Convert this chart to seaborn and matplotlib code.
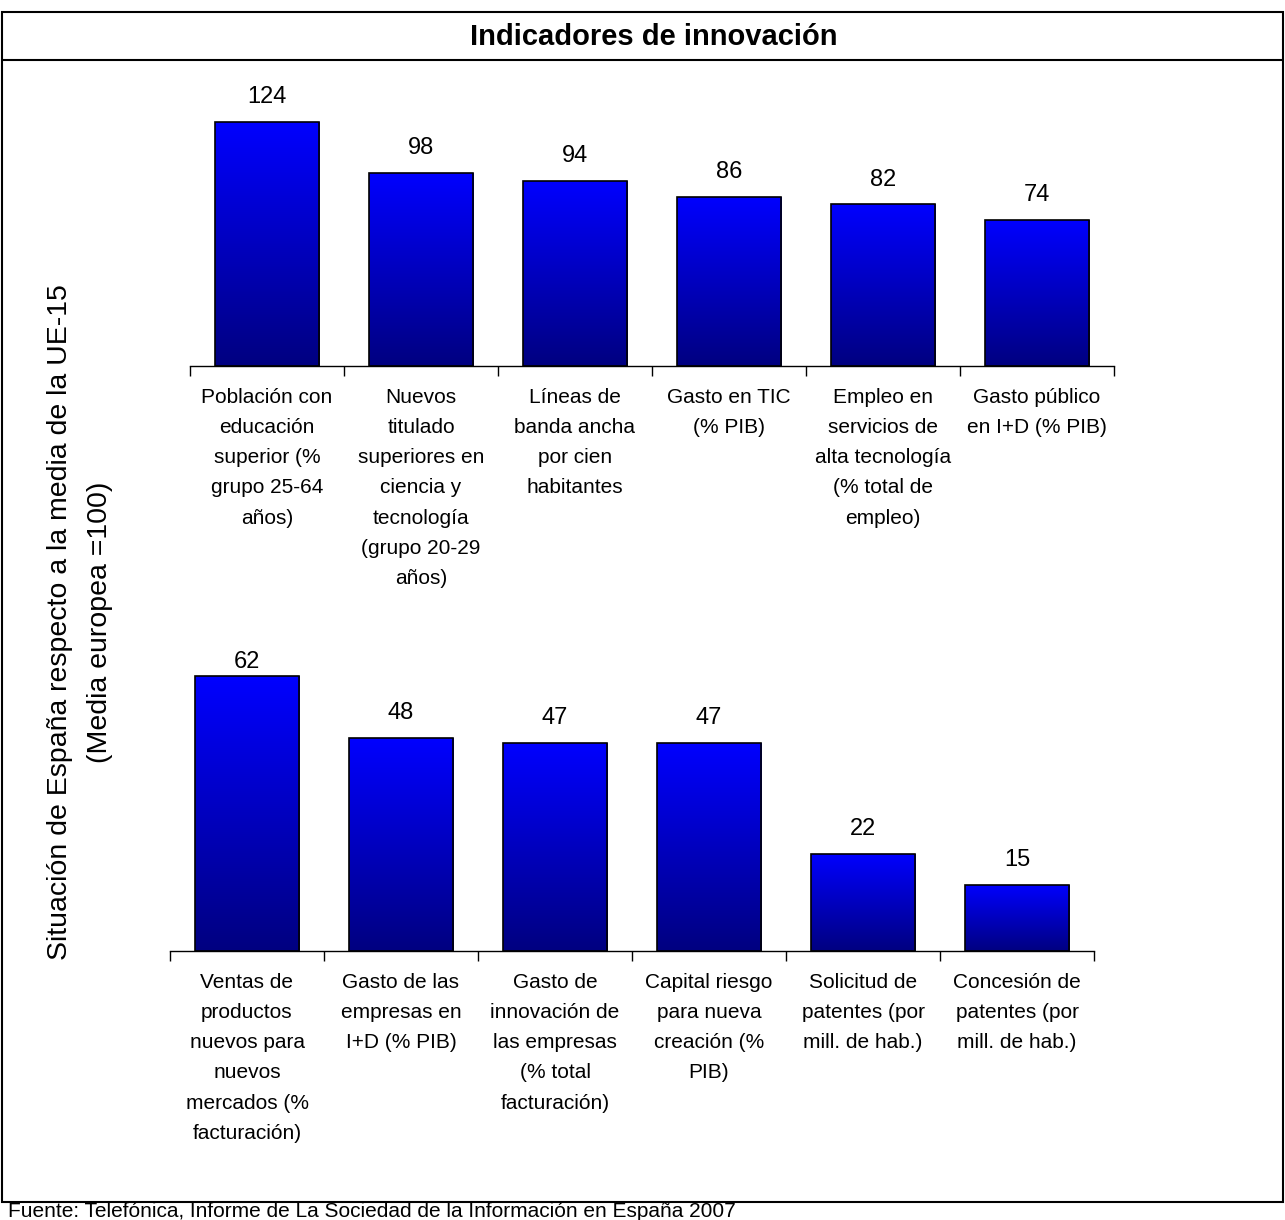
import numpy as np
import pandas as pd
import matplotlib
matplotlib.use("Agg")
import matplotlib.pyplot as plt
import seaborn as sns
from matplotlib.colors import LinearSegmentedColormap
from matplotlib.patches import Rectangle
from matplotlib.lines import Line2D

sns.set_style("white")
plt.rcParams["font.family"] = ["Liberation Sans", "DejaVu Sans"]
plt.rcParams["text.color"] = "black"
plt.rcParams["xtick.color"] = "black"
plt.rcParams["xtick.labelcolor"] = "black"

# ---------------- data ----------------
top_labels = [
    "Población con\neducación\nsuperior (%\ngrupo 25-64\naños)",
    "Nuevos\ntitulado\nsuperiores en\nciencia y\ntecnología\n(grupo 20-29\naños)",
    "Líneas de\nbanda ancha\npor cien\nhabitantes",
    "Gasto en TIC\n(% PIB)",
    "Empleo en\nservicios de\nalta tecnología\n(% total de\nempleo)",
    "Gasto público\nen I+D (% PIB)",
]
top_values = [124, 98, 94, 86, 82, 74]

bottom_labels = [
    "Ventas de\nproductos\nnuevos para\nnuevos\nmercados (%\nfacturación)",
    "Gasto de las\nempresas en\nI+D (% PIB)",
    "Gasto de\ninnovación de\nlas empresas\n(% total\nfacturación)",
    "Capital riesgo\npara nueva\ncreación (%\nPIB)",
    "Solicitud de\npatentes (por\nmill. de hab.)",
    "Concesión de\npatentes (por\nmill. de hab.)",
]
bottom_values = [62, 48, 47, 47, 22, 15]

title = "Indicadores de innovación"
ylabel = "Situación de España respecto a la media de la UE-15\n(Media europea =100)"
source = "Fuente: Telefónica, Informe de La Sociedad de la Información en España 2007"

W, H = 1285, 1220
fig = plt.figure(figsize=(W / 100, H / 100), dpi=100)

grad_cmap = LinearSegmentedColormap.from_list("excel_blue", ["#000080", "#0000ff"])
grad = np.linspace(0, 1, 256).reshape(-1, 1)


def gradient_bars(ax):
    for bar in ax.containers[0]:
        x0, w = bar.get_x(), bar.get_width()
        y0, h = bar.get_y(), bar.get_height()
        im = ax.imshow(grad, cmap=grad_cmap, origin="lower", aspect="auto",
                       extent=[x0, x0 + w, y0, y0 + h], zorder=1.5)
        im.set_clip_path(bar)
        bar.set_facecolor("none")
        bar.set_zorder(2)


def draw_panel(ax, labels, values, ymax, pads):
    df = pd.DataFrame({"cat": labels, "val": values})
    sns.barplot(data=df, x="cat", y="val", color="blue", width=0.68,
                edgecolor="black", linewidth=1.2, ax=ax)
    gradient_bars(ax)
    for i, (v, p) in enumerate(zip(values, pads)):
        ax.annotate(str(v), xy=(i, v), xytext=(0, p), textcoords="offset points",
                    ha="center", va="bottom", fontsize=17, color="black")
    ax.set_xlim(-0.5, len(values) - 0.5)
    ax.set_ylim(0, ymax)
    ax.set_xlabel("")
    ax.set_ylabel("")
    ax.set_yticks([])
    for s in ["left", "top", "right"]:
        ax.spines[s].set_visible(False)
    ax.spines["bottom"].set_color("black")
    ax.spines["bottom"].set_linewidth(1.0)
    ax.set_xticks(np.arange(-0.5, len(values)), minor=True)
    ax.tick_params(axis="x", which="minor", length=7, width=1, color="black",
                   direction="out", bottom=True)
    ax.tick_params(axis="x", which="major", length=0, pad=15.5, labelsize=15,
                   labelcolor="black")
    for t in ax.get_xticklabels():
        t.set_linespacing(1.75)
        t.set_verticalalignment("top")


# top panel: baseline at y=366 px, 1.97 px per unit
ax1 = fig.add_axes([190 / W, 1 - 366 / H, 924 / W, 130 * 1.97 / H])
draw_panel(ax1, top_labels, top_values, 130, [10] * 6)

# bottom panel: baseline at y=951 px, 4.43 px per unit
ax2 = fig.add_axes([170 / W, 1 - 951 / H, 924 / W, 70 * 4.43 / H])
draw_panel(ax2, bottom_labels, bottom_values, 70, [2.2, 10, 10, 10, 10, 10])

# frame and title bar
fig.patches.append(Rectangle((2 / W, 1 - 1202 / H), 1281 / W, 1190 / H,
                             transform=fig.transFigure, fill=False,
                             edgecolor="black", linewidth=1.5))
fig.lines.append(Line2D([2 / W, 1283 / W], [1 - 60 / H, 1 - 60 / H],
                        transform=fig.transFigure, color="black", linewidth=1.5))
fig.text(654 / W, 1 - 37 / H, title, ha="center", va="center",
         fontsize=21, fontweight="bold")

fig.text(80 / W, 1 - 622 / H, ylabel, rotation=90, ha="center", va="center",
         multialignment="center", fontsize=20.5, linespacing=1.7)

fig.text(8 / W, 1 - 1217 / H, source, ha="left", va="baseline", fontsize=15)

fig.savefig("out.png", dpi=100)
